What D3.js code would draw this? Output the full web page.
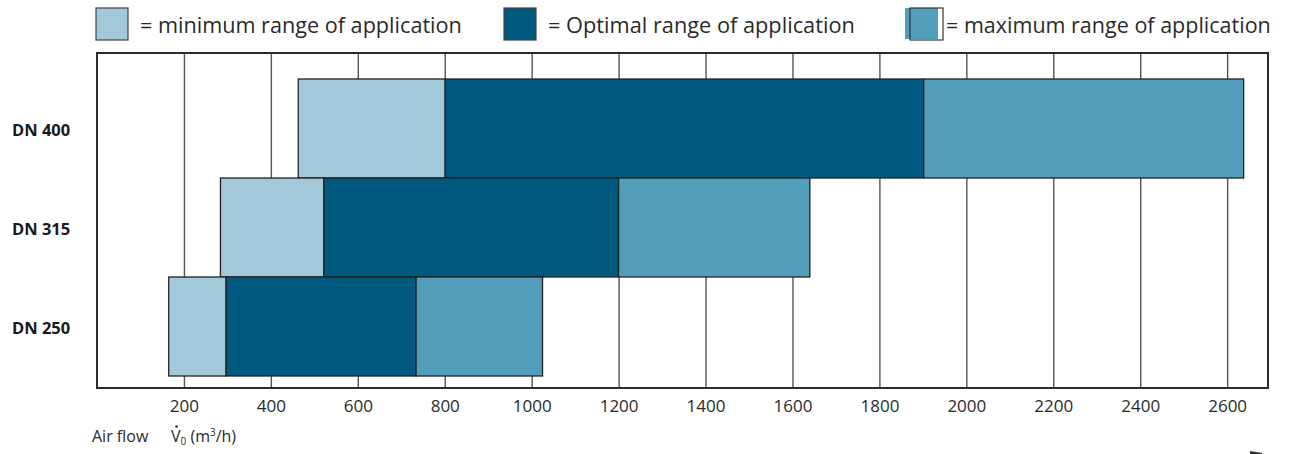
<!DOCTYPE html>
<html>
<head>
<meta charset="utf-8">
<script src="https://cdn.jsdelivr.net/npm/d3@7"></script>
<style>
  html, body { margin: 0; padding: 0; background: #fff; }
  svg { display: block; font-family: "Open Sans", "Noto Sans", sans-serif; }
</style>
</head>
<body>
<svg id="chart" width="1291" height="454"></svg>
<script>
const categories = ["DN 400", "DN 315", "DN 250"];
const minStart = [463, 284, 165];
const optStart = [801, 522, 297];
const maxStart = [1902, 1200, 734];
const maxEnd = [2638, 1640, 1025];
const tickValues = [200, 400, 600, 800, 1000, 1200, 1400, 1600, 1800, 2000, 2200, 2400, 2600];
const legendLabels = ["= minimum range of application", "= Optimal range of application", "= maximum range of application"];
const colors = { min: "#a2c8da", opt: "#005a80", max: "#529dba" };

const svg = d3.select("#chart");
const frame = { left: 97, right: 1268, top: 53, bottom: 388 };

const x = d3.scaleLinear().domain([0, 2694]).range([frame.left, frame.right]);
const y = d3.scaleBand().domain(categories).range([79, 376]).paddingInner(0).paddingOuter(0);

function fitText(sel, target) {
  const node = sel.node();
  const fs = parseFloat(sel.attr("font-size"));
  const w = node.getComputedTextLength();
  if (w > 0) sel.attr("font-size", (fs * target / w).toFixed(2));
}

// gridlines via axis
const grid = d3.axisBottom(x).tickValues(tickValues).tickSize(-(frame.bottom - frame.top)).tickFormat("");
const gg = svg.append("g").attr("transform", `translate(0,${frame.bottom})`).call(grid);
gg.select(".domain").remove();
gg.selectAll("line").attr("stroke", "#555").attr("stroke-width", 1.4);

// bars
const rows = categories.map((c, i) => ({ c, segs: [
  { k: "min", a: minStart[i], b: optStart[i] },
  { k: "opt", a: optStart[i], b: maxStart[i] },
  { k: "max", a: maxStart[i], b: maxEnd[i] }
]}));
const rg = svg.selectAll("g.row").data(rows).enter().append("g").attr("class", "row");
rg.selectAll("rect").data(d => d.segs.map(s => Object.assign({ c: d.c }, s))).enter().append("rect")
  .attr("x", d => x(d.a))
  .attr("y", d => y(d.c))
  .attr("width", d => x(d.b) - x(d.a))
  .attr("height", y.bandwidth())
  .attr("fill", d => colors[d.k])
  .attr("stroke", "#222")
  .attr("stroke-width", 1.3);

// frame
svg.append("rect")
  .attr("x", frame.left).attr("y", frame.top)
  .attr("width", frame.right - frame.left).attr("height", frame.bottom - frame.top)
  .attr("fill", "none").attr("stroke", "#2b2b2b").attr("stroke-width", 2);

// x tick labels
const xa = d3.axisBottom(x).tickValues(tickValues).tickSize(0).tickPadding(0).tickFormat(d3.format("d"));
const xg = svg.append("g").attr("transform", "translate(0,412)").call(xa);
xg.select(".domain").remove();
xg.selectAll("text").attr("dy", 0).attr("y", 0)
  .attr("font-size", 17).attr("fill", "#2a2a2a")
  .attr("font-family", "'Open Sans', sans-serif");

// y labels
svg.selectAll("text.ylab").data(categories).enter().append("text")
  .attr("class", "ylab")
  .attr("x", 12)
  .attr("y", d => y(d) + y.bandwidth() / 2 + 7.5)
  .attr("font-size", 16.5).attr("font-weight", "bold").attr("fill", "#1a1a1a")
  .text(d => d);

// axis title
svg.append("text").attr("x", 92).attr("y", 442).attr("font-size", 16).attr("fill", "#2a2a2a").text("Air flow");
const vt = svg.append("text").attr("x", 171).attr("y", 442).attr("font-size", 16).attr("fill", "#2a2a2a");
vt.append("tspan").text("V");
vt.append("tspan").attr("font-size", 10).attr("dy", 3).text("0");
vt.append("tspan").attr("dy", -3).text(" (m");
vt.append("tspan").attr("font-size", 10).attr("dy", -6).text("3");
vt.append("tspan").attr("dy", 6).text("/h)");
svg.append("circle").attr("cx", 176.5).attr("cy", 426.5).attr("r", 1.3).attr("fill", "#2a2a2a");

// legend
const lg = svg.append("g");
lg.append("rect").attr("x", 96).attr("y", 8).attr("width", 32).attr("height", 32)
  .attr("fill", colors.min).attr("stroke", "#444").attr("stroke-width", 1.2);
lg.append("rect").attr("x", 504).attr("y", 8).attr("width", 32).attr("height", 32)
  .attr("fill", colors.opt).attr("stroke", "#444").attr("stroke-width", 1.2);
lg.append("rect").attr("x", 905).attr("y", 8).attr("width", 33).attr("height", 31)
  .attr("fill", colors.max);
lg.append("rect").attr("x", 910).attr("y", 8).attr("width", 33).attr("height", 32)
  .attr("fill", "none").attr("stroke", "#333").attr("stroke-width", 1.2);

const legPos = [[140, 322], [548, 307], [946, 325]];
legendLabels.forEach((t, i) => {
  const s = lg.append("text").attr("x", legPos[i][0]).attr("y", 33)
    .attr("font-size", 21).attr("fill", "#2a2a2a").text(t);
  fitText(s, legPos[i][1]);
});

// small corner mark
svg.append("path").attr("d", "M1250,451 L1262,453 L1262,454 L1250,454 Z").attr("fill", "#333");
</script>
</body>
</html>
